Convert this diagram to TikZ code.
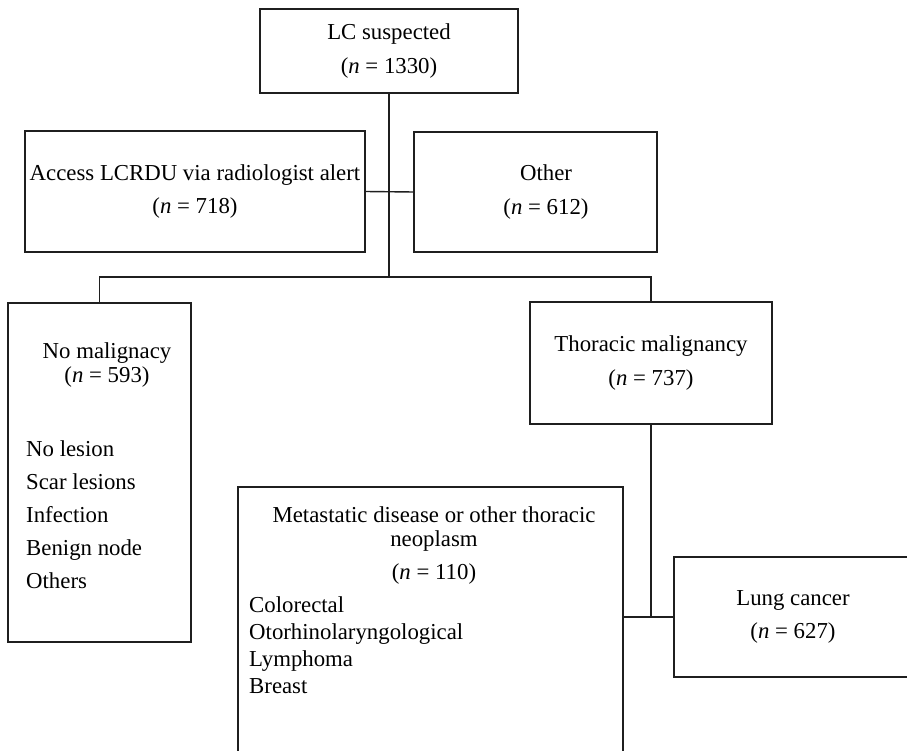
\documentclass[tikz,border=0pt]{standalone}
\usepackage{fontspec}
\setmainfont{Liberation Serif}
\usetikzlibrary{calc}
\definecolor{dgray}{gray}{0.12}
\newcommand{\chartfont}{\fontsize{22.8}{27.4}\selectfont}
\tikzset
{
    % Style for the boxes of the flow chart
    flow box/.style=
    {
        draw=dgray,
        line width=1.4pt,
        shape=rectangle,
        inner sep=0pt,
        outer sep=0pt,
        align=center,
        font=\chartfont
    },
    % Style for text that is set inside a box by hand
    % (anchor base sits on the baseline of the last line)
    box text/.style=
    {
        inner sep=0pt,
        font=\chartfont
    },
    % Style for the connecting lines
    link/.style=
    {
        draw=dgray,
        line width=1.4pt
    },
    % Style for the thick line below the first box
    trunk/.style=
    {
        link,
        line width=2.6pt
    }
}

\begin{document}
\begin{tikzpicture}[x=1pt,y=-1pt]
    % Define the bounding box, the lowest boxes run over the edge
    \useasboundingbox (0,0) rectangle (907,751);
    \clip (0,0) rectangle (907,751);

    % Boxes
    \node (lc) [flow box, minimum width=258pt, minimum height=84pt] at (389,51)
        {LC suspected\\[7pt](\textit{n} = 1330)};
    \node (access) [flow box, minimum width=340pt, minimum height=121pt] at (195,191.5)
        {Access LCRDU via radiologist alert\\[5.6pt](\textit{n} = 718)};
    \node (other) [flow box, minimum width=243pt, minimum height=120pt] at (535.5,192)
        {\hspace*{21pt}Other\\[6pt]\hspace*{21pt}(\textit{n} = 612)};
    \node (thor) [flow box, minimum width=242pt, minimum height=122pt] at (651,363)
        {Thoracic malignancy\\[6.6pt](\textit{n} = 737)};
    \node (lung) [flow box, minimum width=238pt, minimum height=120pt] at (793,617)
        {Lung cancer\\[5.6pt](\textit{n} = 627)};
    \node (nomal) [flow box, minimum width=183pt, minimum height=339pt] at (99.5,472.5) {};
    \node (meta) [flow box, minimum width=385pt, minimum height=300pt] at (430.5,637) {};

    % Texts of the two large boxes
    \node (nomal title) [box text, align=center, anchor=base] at (107,382)
        {No malignacy\\[-3.4pt](\textit{n} = 593)};
    \node (nomal list) [box text, align=left, anchor=base west,
        font={\fontsize{22.8}{33}\selectfont}] at (26,588)
        {No lesion\\Scar lesions\\Infection\\Benign node\\Others};
    \node (meta title) [box text, align=center, anchor=base] at (434,579)
        {Metastatic disease or other thoracic\\[-3.4pt]neoplasm\\[5.6pt](\textit{n} = 110)};
    \node (meta list) [box text, align=left, anchor=base west,
        font={\fontsize{22.8}{26.7}\selectfont}] at (249,693)
        {Colorectal\\Otorhinolaryngological\\Lymphoma\\Breast};

    % Connectors
    \coordinate (split) at (lc.south |- 0,277);
    \draw[trunk] (lc.south) -- (split);
    \draw[link] (access.east) -- (other.west);
    \draw[link] (nomal.north) |- (split) -| (thor.north);
    \draw[link] (thor.south) -- (thor.south |- lung.west);
    \draw[link] (meta.east |- lung.west) -- (lung.west);
\end{tikzpicture}
\end{document}
